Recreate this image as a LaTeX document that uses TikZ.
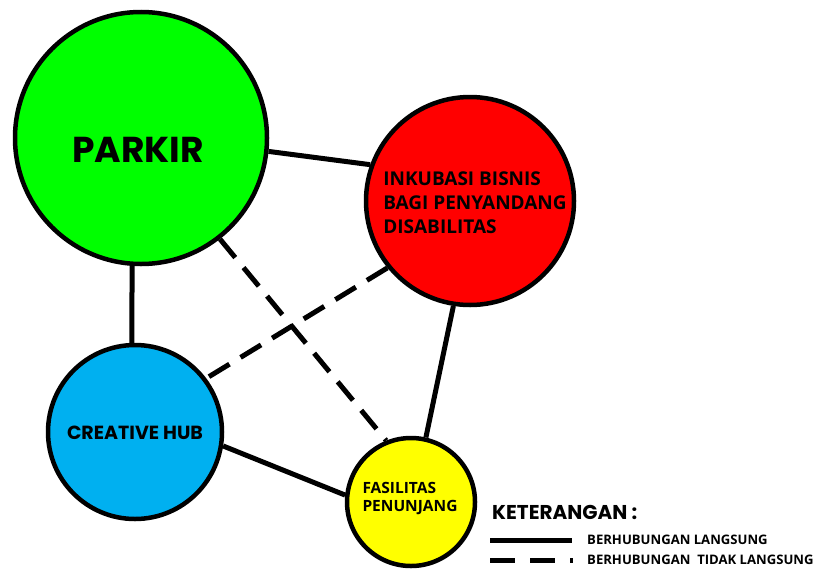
\documentclass[tikz,border=0pt]{standalone}
\usepackage{fontspec}
\setmainfont{Open Sans}
\newfontfamily\geofont{Poppins}
\definecolor{parkirgreen}{RGB}{0,255,0}
\definecolor{inkured}{RGB}{255,0,0}
\definecolor{hubblue}{RGB}{0,176,240}
\definecolor{fasyellow}{RGB}{255,255,0}
\tikzset{
    zone/.style={circle, draw=black, line width=4.5pt, inner sep=0pt, text=black},
    direct/.style={line width=5pt},
    indirect/.style={line width=5pt, dash pattern=on 24pt off 13pt},
    geotext/.style={inner sep=0pt, font=\geofont\bfseries\fontsize{#1}{#1}\selectfont},
    plaintext/.style={inner sep=0pt, font=\bfseries\fontsize{#1}{#1}\selectfont},
}

\begin{document}
\begin{tikzpicture}[x=1pt, y=-1pt]
    \path[use as bounding box] (0,0) rectangle (818,570);
    % zones
    \node[zone, fill=parkirgreen, minimum size=252pt] (parkir) at (141,138) {};
    \node[geotext=36] (parkirlabel) at (138,150) {PARKIR};
    \node[zone, fill=inkured, minimum size=208pt] (inkubasi) at (470,201) {};
    \node[plaintext=19, align=left, font=\bfseries\fontsize{19}{24}\selectfont] (inkubasilabel) at (475,203)
        {INKUBASI BISNIS\\BAGI PENYANDANG\\DISABILITAS};
    \node[zone, fill=hubblue, minimum size=174pt] (hub) at (135,432) {};
    \node[geotext=19] (hublabel) at (135,433) {CREATIVE HUB};
    \node[zone, fill=fasyellow, minimum size=128pt] (fasilitas) at (411,502) {};
    \node[plaintext=15.5, align=left, font=\bfseries\fontsize{15.5}{18}\selectfont] (fasilitaslabel) at (410,499)
        {FASILITAS\\PENUNJANG};
    % relations
    \draw[direct] (parkir.-6) -- (inkubasi.160);
    \draw[direct] (parkir.-94) -- (hub.92);
    \draw[direct] (inkubasi.-99) -- (fasilitas.77);
    \draw[direct] (hub.-9) -- (fasilitas.174);
    \draw[indirect] (parkir.-52) -- (fasilitas.112);
    \draw[indirect] (inkubasi.-141) -- (hub.37);
    % legend
    \node[geotext=20, anchor=west] (keterangan) at (492,512) {KETERANGAN :};
    \node[plaintext=13.1, anchor=west] (lgdirect) at (587,540) {BERHUBUNGAN LANGSUNG};
    \node[plaintext=13.1, anchor=west] (lgindirect) at (587,560) {BERHUBUNGAN\ \ TIDAK LANGSUNG};
    \coordinate (lgdirectstart) at (490,540);
    \coordinate (lgindirectstart) at (490,560);
    \draw[direct] (lgdirectstart) -- ([xshift=-15pt]lgdirect.west);
    \draw[indirect, dash pattern=on 25pt off 15pt] (lgindirectstart) -- ([xshift=-14pt]lgindirect.west);
\end{tikzpicture}
\end{document}
